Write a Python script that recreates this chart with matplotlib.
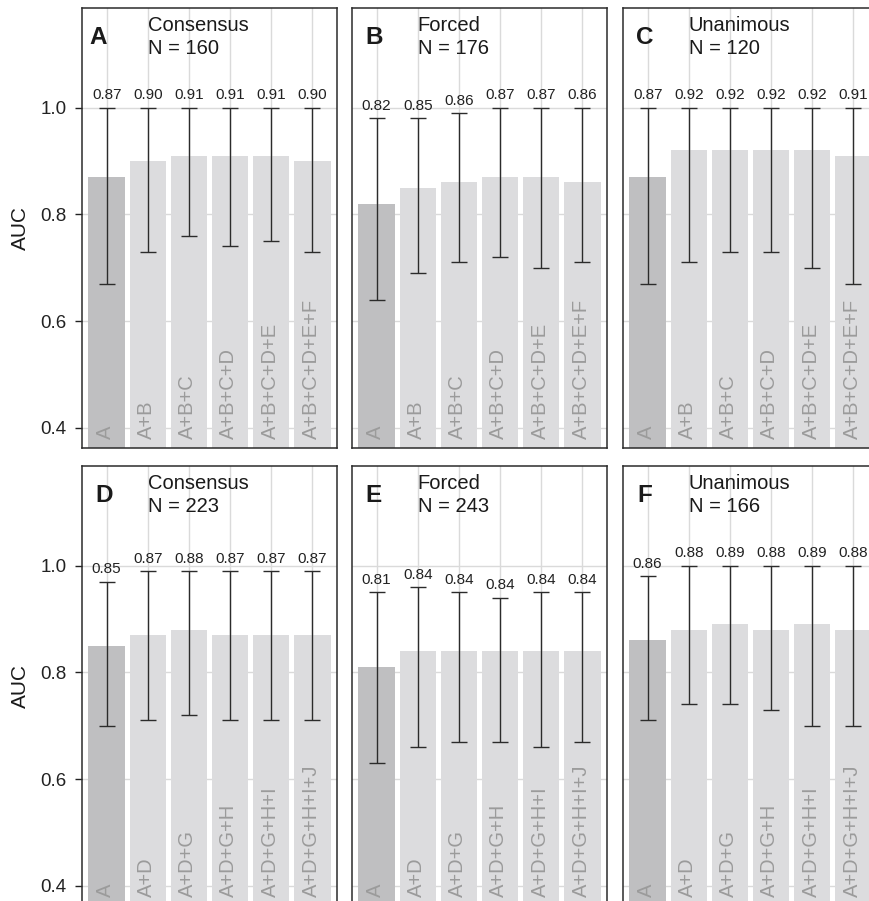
import numpy as np
import matplotlib.pyplot as plt

plt.rcParams['font.family'] = ['Liberation Sans', 'DejaVu Sans']

# panel info
letters = ['A', 'B', 'C', 'D', 'E', 'F']
groups = ['Consensus', 'Forced', 'Unanimous', 'Consensus', 'Forced', 'Unanimous']
n_cases = [160, 176, 120, 223, 243, 166]

models_top = ['A', 'A+B', 'A+B+C', 'A+B+C+D', 'A+B+C+D+E', 'A+B+C+D+E+F']
models_bot = ['A', 'A+D', 'A+D+G', 'A+D+G+H', 'A+D+G+H+I', 'A+D+G+H+I+J']

# AUC and confidence limits
auc = [
    [0.87, 0.90, 0.91, 0.91, 0.91, 0.90],
    [0.82, 0.85, 0.86, 0.87, 0.87, 0.86],
    [0.87, 0.92, 0.92, 0.92, 0.92, 0.91],
    [0.85, 0.87, 0.88, 0.87, 0.87, 0.87],
    [0.81, 0.84, 0.84, 0.84, 0.84, 0.84],
    [0.86, 0.88, 0.89, 0.88, 0.89, 0.88],
]
lower = [
    [0.67, 0.73, 0.76, 0.74, 0.75, 0.73],
    [0.64, 0.69, 0.71, 0.72, 0.70, 0.71],
    [0.67, 0.71, 0.73, 0.73, 0.70, 0.67],
    [0.70, 0.71, 0.72, 0.71, 0.71, 0.71],
    [0.63, 0.66, 0.67, 0.67, 0.66, 0.67],
    [0.71, 0.74, 0.74, 0.73, 0.70, 0.70],
]
upper = [
    [1.00, 1.00, 1.00, 1.00, 1.00, 1.00],
    [0.98, 0.98, 0.99, 1.00, 1.00, 1.00],
    [1.00, 1.00, 1.00, 1.00, 1.00, 1.00],
    [0.97, 0.99, 0.99, 0.99, 0.99, 0.99],
    [0.95, 0.96, 0.95, 0.94, 0.95, 0.95],
    [0.98, 1.00, 1.00, 1.00, 1.00, 1.00],
]

W, H = 869, 901
fig = plt.figure(figsize=(W / 100, H / 100), dpi=100)

col_left = [82, 352, 623]
row_top = [8, 466]
aw, ah = 255, 440

dark = '#bfbfc1'
light = '#dcdcde'
grid_c = '#dadada'

for i in range(6):
    r, c = divmod(i, 3)
    ax = fig.add_axes([col_left[c] / W, (H - row_top[r] - ah) / H, aw / W, ah / H])
    models = models_top if r == 0 else models_bot
    x = np.arange(len(models))
    vals = np.array(auc[i])
    lo = np.array(lower[i])
    hi = np.array(upper[i])

    colors = [dark] + [light] * (len(models) - 1)
    ax.bar(x, vals, width=0.89, color=colors, zorder=2)
    ax.errorbar(x, vals, yerr=[vals - lo, hi - vals], fmt='none', ecolor='#2b2b2b',
                elinewidth=1.0, capsize=6, capthick=1.0, zorder=3)

    for xi, v, h in zip(x, vals, hi):
        ax.annotate(f'{v:.2f}', (xi, h), xytext=(0, 4), textcoords='offset points',
                    ha='center', va='bottom', fontsize=11, color='#222222')
    for xi, m in zip(x, models):
        ax.text(xi - 0.03, 0.378, m, rotation=90, ha='center', va='bottom',
                fontsize=14.5, color='#9b9b9b', zorder=4)

    ax.set_xlim(-0.6, 5.6)
    ax.set_ylim(0.362, 1.187)
    ax.set_xticks(x)
    ax.set_yticks([0.4, 0.6, 0.8, 1.0])
    ax.grid(True, color=grid_c, linewidth=1.0)
    ax.set_axisbelow(True)
    ax.tick_params(axis='x', length=0, labelbottom=False)
    if c == 0:
        ax.tick_params(axis='y', length=5, width=1.0, pad=6, labelsize=13.5,
                       colors='#222222')
        ax.set_yticklabels(['0.4', '0.6', '0.8', '1.0'])
    else:
        ax.tick_params(axis='y', length=0, labelleft=False)
    for sp in ax.spines.values():
        sp.set_color('#2b2b2b')
        sp.set_linewidth(1.1)

    lx = 0.065 if i == 0 else 0.086
    ax.text(lx, 0.918, letters[i], transform=ax.transAxes, ha='center', va='baseline',
            fontsize=17.5, fontweight='bold', color='#1a1a1a')
    ax.text(0.258, 0.948, groups[i], transform=ax.transAxes, ha='left', va='baseline',
            fontsize=14.5, color='#1a1a1a')
    ax.text(0.258, 0.895, f'N = {n_cases[i]}', transform=ax.transAxes, ha='left',
            va='baseline', fontsize=14.5, color='#1a1a1a')

    if c == 0:
        fig.text(0.024, (H - row_top[r] - ah / 2) / H, 'AUC', rotation=90,
                 ha='center', va='center', fontsize=15, color='#1a1a1a')

fig.savefig('out.png', dpi=100)
